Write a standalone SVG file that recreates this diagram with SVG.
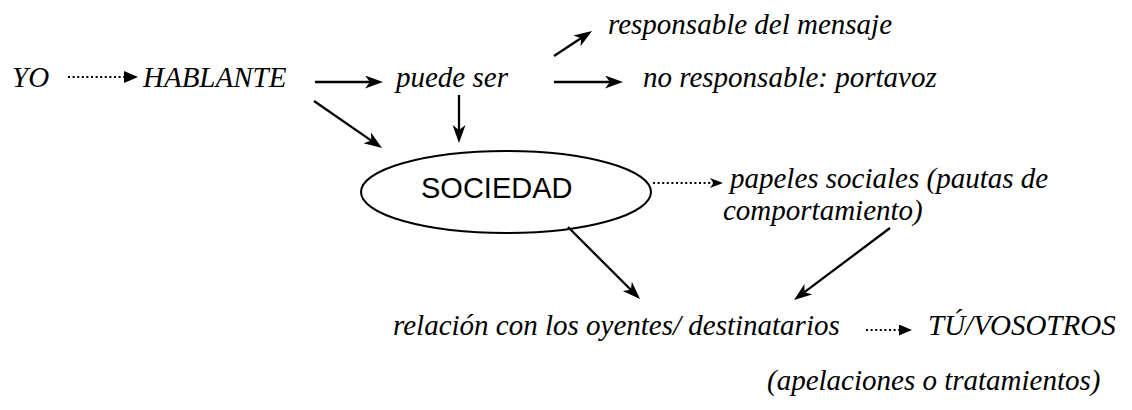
<svg xmlns="http://www.w3.org/2000/svg" width="1132" height="410" viewBox="0 0 1132 410">
<defs>
<style>
.t{font-family:'Liberation Serif','Times New Roman',Times,serif;font-style:italic;font-size:29px;fill:#000}
.s{font-family:'Liberation Sans',Arial,sans-serif;font-size:29px;fill:#000}
.ln{stroke:#000;stroke-width:2.3;fill:none}
.dot{stroke:#000;stroke-width:2;fill:none;stroke-dasharray:2 2.6}
</style>
<marker id="st" markerUnits="userSpaceOnUse" markerWidth="20" markerHeight="16" refX="12" refY="6.5" orient="auto"><path d="M0,0 L18,6.5 L0,13 L5,6.5 z" fill="#000"/></marker>
<marker id="st2" markerUnits="userSpaceOnUse" markerWidth="16" markerHeight="12" refX="7" refY="5" orient="auto"><path d="M0,0 L13,5 L0,10 L3.5,5 z" fill="#000"/></marker>
<marker id="tri" markerUnits="userSpaceOnUse" markerWidth="16" markerHeight="14" refX="1" refY="6" orient="auto"><path d="M0,0 L14,6 L0,12 z" fill="#000"/></marker>
<marker id="tri2" markerUnits="userSpaceOnUse" markerWidth="16" markerHeight="14" refX="1" refY="5.5" orient="auto"><path d="M0,0 L13,5.5 L0,11 z" fill="#000"/></marker>
</defs>
<rect width="1132" height="410" fill="#fff"/>
<g id="connectors">
<line class="dot" x1="68" y1="77" x2="125" y2="77" marker-end="url(#tri)"/>
<line class="ln" x1="315" y1="82" x2="377" y2="82" marker-end="url(#st)"/>
<line class="ln" x1="459" y1="95" x2="459" y2="137" marker-end="url(#st)"/>
<line class="ln" x1="314" y1="101" x2="377.1" y2="144.6" marker-end="url(#st)"/>
<line class="ln" x1="554" y1="56" x2="587" y2="34.3" marker-end="url(#st)"/>
<line class="ln" x1="554" y1="82" x2="617" y2="82" marker-end="url(#st)"/>
<line class="dot" x1="653" y1="183" x2="717" y2="183" marker-end="url(#st2)"/>
<line class="ln" x1="568" y1="227" x2="635.8" y2="294.8" marker-end="url(#st)"/>
<line class="ln" x1="890" y1="228" x2="798.8" y2="296.4" marker-end="url(#st)"/>
<line class="dot" x1="866" y1="330" x2="900" y2="330" marker-end="url(#tri2)"/>
</g>
<g font-family="Liberation Serif, Times New Roman, serif" font-style="italic" font-size="29">
<g id="yo"><text class="t" x="12" y="87">YO</text></g>
<g id="hablante"><text class="t" x="143" y="87">HABLANTE</text></g>
<g id="puede-ser"><text class="t" x="396" y="87">puede ser</text></g>
<g id="responsable"><text class="t" x="608" y="34">responsable del mensaje</text></g>
<g id="no-responsable"><text class="t" x="643" y="87">no responsable: portavoz</text></g>
<g id="papeles">
<text class="t" x="730" y="188">papeles sociales (pautas de</text>
<text class="t" x="723" y="220">comportamiento)</text>
</g>
<g id="relacion"><text class="t" x="393" y="335">relación con los oyentes/ destinatarios</text></g>
<g id="tu-vosotros"><text class="t" x="928" y="335">TÚ/VOSOTROS</text></g>
<g id="apelaciones"><text class="t" x="767" y="390">(apelaciones o tratamientos)</text></g>
</g>
<g id="sociedad">
<ellipse cx="506" cy="192" rx="145" ry="41" fill="none" stroke="#000" stroke-width="2"/>
<text class="s" x="421" y="198">SOCIEDAD</text>
</g>
</svg>
